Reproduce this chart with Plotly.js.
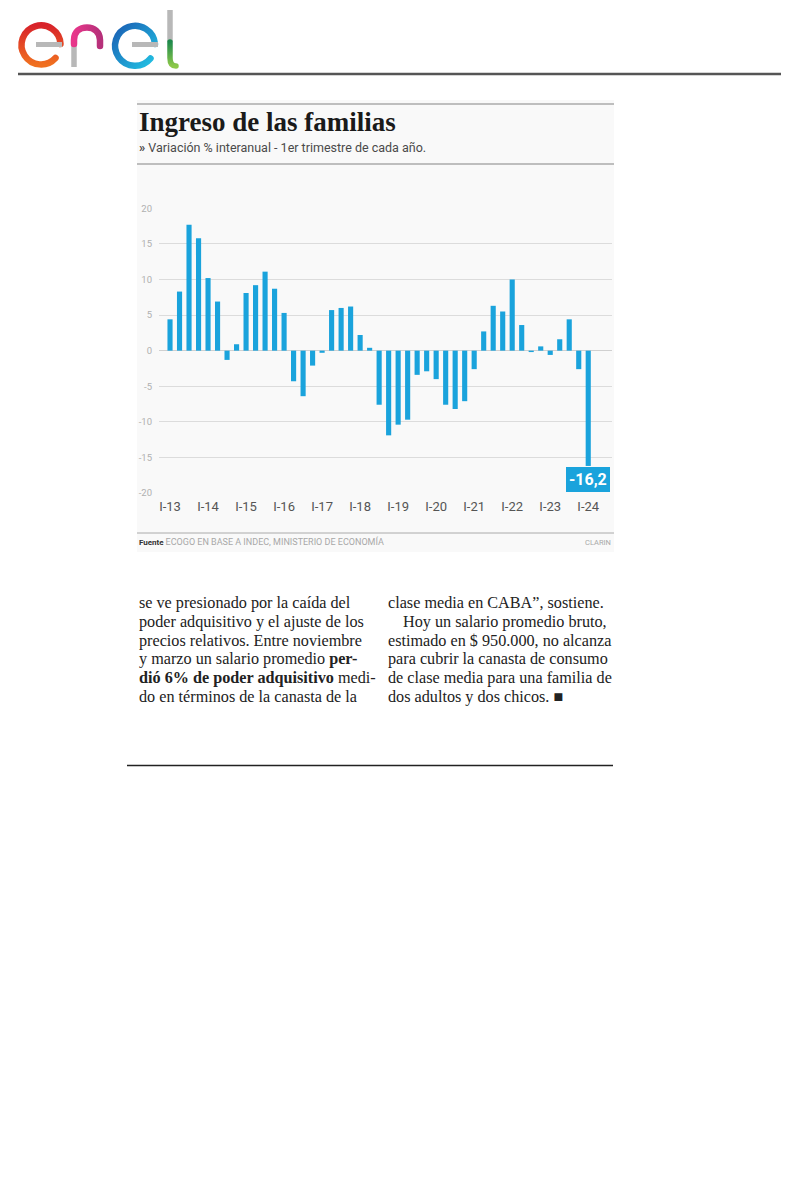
<!DOCTYPE html>
<html>
<head>
<meta charset="utf-8">
<script src="https://cdn.plot.ly/plotly-3.0.1.min.js"></script>
<style>html,body{margin:0;padding:0;background:#fff;}#chart{width:800px;height:1200px;}</style>
</head>
<body>
<div id="chart"></div>
<script>
// ---- data ----
const quarters = [
  "I-13","II-13","III-13","IV-13",
  "I-14","II-14","III-14","IV-14",
  "I-15","II-15","III-15","IV-15",
  "I-16","II-16","III-16","IV-16",
  "I-17","II-17","III-17","IV-17",
  "I-18","II-18","III-18","IV-18",
  "I-19","II-19","III-19","IV-19",
  "I-20","II-20","III-20","IV-20",
  "I-21","II-21","III-21","IV-21",
  "I-22","II-22","III-22","IV-22",
  "I-23","II-23","III-23","IV-23",
  "I-24"
];
const variation = [
  4.4, 8.3, 17.7, 15.8,
  10.2, 6.9, -1.3, 0.9,
  8.1, 9.2, 11.1, 8.7,
  5.3, -4.3, -6.4, -2.1,
  -0.3, 5.7, 6.0, 6.2,
  2.2, 0.4, -7.6, -11.9,
  -10.4, -9.7, -3.4, -2.9,
  -4.0, -7.6, -8.2, -7.1,
  -2.6, 2.7, 6.3, 5.5,
  10.0, 3.6, -0.2, 0.6,
  -0.6, 1.6, 4.4, -2.6,
  -16.2
];
const xTickLabels = ["I-13","I-14","I-15","I-16","I-17","I-18","I-19","I-20","I-21","I-22","I-23","I-24"];
const yTickVals = [-20, -15, -10, -5, 0, 5, 10, 15, 20];
const yTickText = ["-20", "-15", "-10", "-5", "0", "5", "10", "15", "20"];
const highlightLabel = "-16,2";
const titleText = "Ingreso de las familias";
const subtitleText = "Variación % interanual - 1er trimestre de cada año.";
const sourceText = "ECOGO EN BASE A INDEC, MINISTERIO DE ECONOMÍA";
const creditText = "CLARIN";
const leftColumn = [
  "se ve presionado por la caída del",
  "poder adquisitivo y el ajuste de los",
  "precios relativos. Entre noviembre",
  "y marzo un salario promedio <b>per-</b>",
  "<b>dió 6% de poder adquisitivo</b> medi-",
  "do en términos de la canasta de la"
];
const rightColumn = [
  "clase media en CABA”, sostiene.",
  "Hoy un salario promedio bruto,",
  "estimado en $ 950.000, no alcanza",
  "para cubrir la canasta de consumo",
  "de clase media para una familia de",
  "dos adultos y dos chicos. ■"
];

// ---- helpers (page pixel -> paper) ----
const W = 800, H = 1200;
const px = v => v / W;
const py = v => 1 - v / H;

const BLUE = "#1aa3dc";

// ---- logo (svg image) ----
const logoSvg =
"<svg xmlns='http://www.w3.org/2000/svg' width='180' height='80' viewBox='0 0 180 80'>" +
"<defs>" +
"<linearGradient id='g1' x1='0' y1='0' x2='0' y2='1'><stop offset='0' stop-color='#d8232a'/><stop offset='1' stop-color='#f07020'/></linearGradient>" +
"<linearGradient id='g2' x1='0' y1='0' x2='1' y2='0'><stop offset='0' stop-color='#e8368a'/><stop offset='1' stop-color='#b6307a'/></linearGradient>" +
"<linearGradient id='g3' x1='0' y1='0' x2='1' y2='1'><stop offset='0' stop-color='#1a5fb4'/><stop offset='1' stop-color='#22c4e4'/></linearGradient>" +
"<linearGradient id='g4' x1='0' y1='0' x2='0' y2='1'><stop offset='0' stop-color='#1f8a4c'/><stop offset='1' stop-color='#8cc84a'/></linearGradient>" +
"</defs>" +
"<path d='M60.5,44 A19.5,19.5 0 1 0 55.5,58' fill='none' stroke='url(#g1)' stroke-width='6.5' stroke-linecap='round'/>" +
"<line x1='36' y1='44.5' x2='62' y2='44.5' stroke='#b8b8b8' stroke-width='5'/>" +
"<line x1='74' y1='44' x2='74' y2='67' stroke='#b8b8b8' stroke-width='5.5'/>" +
"<path d='M74,44 L74,40 C74,31.5 80,27.5 87,27.5 C94,27.5 100,32 100,40 L100,46' fill='none' stroke='url(#g2)' stroke-width='6.5' stroke-linecap='round'/>" +
"<path d='M155,44 A20,20 0 1 0 150.5,58.5' fill='none' stroke='url(#g3)' stroke-width='6.5' stroke-linecap='round'/>" +
"<line x1='132' y1='44.5' x2='158' y2='44.5' stroke='#b8b8b8' stroke-width='5'/>" +
"<line x1='170' y1='10' x2='170' y2='42' stroke='#b8b8b8' stroke-width='5.5'/>" +
"<path d='M170,42 L170,58 C170,63 172,66 176,66' fill='none' stroke='url(#g4)' stroke-width='5.5' stroke-linecap='round'/>" +
"</svg>";
const logoSrc = "data:image/svg+xml;charset=utf-8," + encodeURIComponent(logoSvg);

// ---- trace ----
const trace = {
  type: "bar",
  x: quarters,
  y: variation,
  marker: {color: BLUE},
  hoverinfo: "x+y"
};

// ---- annotations ----
const ARTICLE_FONT = {family: "Liberation Serif, serif", size: 16.2, color: "#222"};
const annotations = [];
annotations.push({
  xref: "paper", yref: "paper", x: px(137), y: py(122), xanchor: "left", yanchor: "middle",
  text: "<b>" + titleText + "</b>", showarrow: false,
  font: {family: "Liberation Serif, serif", size: 27, color: "#1a1a1a"}
});
annotations.push({
  xref: "paper", yref: "paper", x: px(137), y: py(147), xanchor: "left", yanchor: "middle",
  text: "<b>»</b> " + subtitleText, showarrow: false,
  font: {family: "Roboto, sans-serif", size: 12.5, color: "#4a4a4a"}
});
annotations.push({
  xref: "x", yref: "y", x: quarters[quarters.length - 1], y: variation[variation.length - 1],
  xanchor: "center", yanchor: "top", yshift: -1,
  text: "<b>" + highlightLabel + "</b>", showarrow: false,
  bgcolor: BLUE, borderpad: 2, borderwidth: 1, bordercolor: BLUE,
  font: {family: "Roboto, sans-serif", size: 16, color: "#ffffff"}
});
annotations.push({
  xref: "paper", yref: "paper", x: px(137), y: py(541), xanchor: "left", yanchor: "middle",
  text: "<b>Fuente</b> <span style='color:#a8a8a8;font-size:9px'>" + sourceText + "</span>", showarrow: false,
  font: {family: "Roboto, sans-serif", size: 8, color: "#333"}
});
annotations.push({
  xref: "paper", yref: "paper", x: px(613), y: py(542), xanchor: "right", yanchor: "middle",
  text: creditText, showarrow: false,
  font: {family: "Roboto, sans-serif", size: 7.5, color: "#a8a8a8"}
});
leftColumn.forEach((t, i) => {
  annotations.push({
    xref: "paper", yref: "paper", x: px(137), y: py(603 + 18.8 * i), xanchor: "left", yanchor: "middle",
    text: t, showarrow: false, font: ARTICLE_FONT
  });
});
rightColumn.forEach((t, i) => {
  annotations.push({
    xref: "paper", yref: "paper", x: px(i === 1 ? 401 : 386), y: py(603 + 18.8 * i), xanchor: "left", yanchor: "middle",
    text: t, showarrow: false, font: ARTICLE_FONT
  });
});

// ---- shapes ----
const shapes = [
  {type: "rect", xref: "paper", yref: "paper", x0: px(137), x1: px(614), y0: py(100), y1: py(552),
   fillcolor: "#f9f9f9", line: {width: 0}, layer: "below"},
  {type: "line", xref: "paper", yref: "paper", x0: px(18), x1: px(781), y0: py(74), y1: py(74),
   line: {color: "#555", width: 2.5}},
  {type: "line", xref: "paper", yref: "paper", x0: px(137), x1: px(614), y0: py(104), y1: py(104),
   line: {color: "#aaa", width: 1.5}},
  {type: "line", xref: "paper", yref: "paper", x0: px(137), x1: px(614), y0: py(164), y1: py(164),
   line: {color: "#aaa", width: 1.5}},
  {type: "line", xref: "paper", yref: "paper", x0: px(137), x1: px(614), y0: py(533), y1: py(533),
   line: {color: "#aaa", width: 1}},
  {type: "line", xref: "paper", yref: "paper", x0: px(127), x1: px(613), y0: py(765.5), y1: py(765.5),
   line: {color: "#222", width: 1.5}}
];

const layout = {
  width: W, height: H,
  margin: {l: 0, r: 0, t: 0, b: 0, pad: 0},
  paper_bgcolor: "#ffffff",
  plot_bgcolor: "rgba(0,0,0,0)",
  showlegend: false,
  bargap: 0.46,
  xaxis: {
    domain: [px(159), px(612)],
    type: "category",
    range: [-1.16, 46.5],
    tickmode: "array",
    tickvals: xTickLabels,
    ticktext: xTickLabels,
    ticks: "",
    showgrid: false,
    zeroline: false,
    showline: false,
    ticklabelstandoff: 4,
    tickfont: {family: "Roboto, sans-serif", size: 13, color: "#555"},
    fixedrange: true
  },
  yaxis: {
    domain: [py(493), py(208.3)],
    range: [-20, 20],
    tickmode: "array",
    tickvals: yTickVals,
    ticktext: yTickText,
    ticks: "",
    showgrid: true,
    gridcolor: "#dcdcdc",
    gridwidth: 1,
    zeroline: true,
    zerolinecolor: "#d0d0d0",
    zerolinewidth: 1,
    showline: false,
    ticklabelstandoff: 6,
    tickfont: {family: "Roboto, sans-serif", size: 9.5, color: "#b0b0b0"},
    fixedrange: true
  },
  annotations: annotations,
  shapes: shapes,
  images: [{
    source: logoSrc, xref: "paper", yref: "paper",
    x: 0, y: 1, sizex: 180 / W, sizey: 80 / H,
    xanchor: "left", yanchor: "top", sizing: "stretch", layer: "above"
  }]
};

Plotly.newPlot("chart", [trace], layout, {displayModeBar: false, staticPlot: true});
</script>
</body>
</html>
